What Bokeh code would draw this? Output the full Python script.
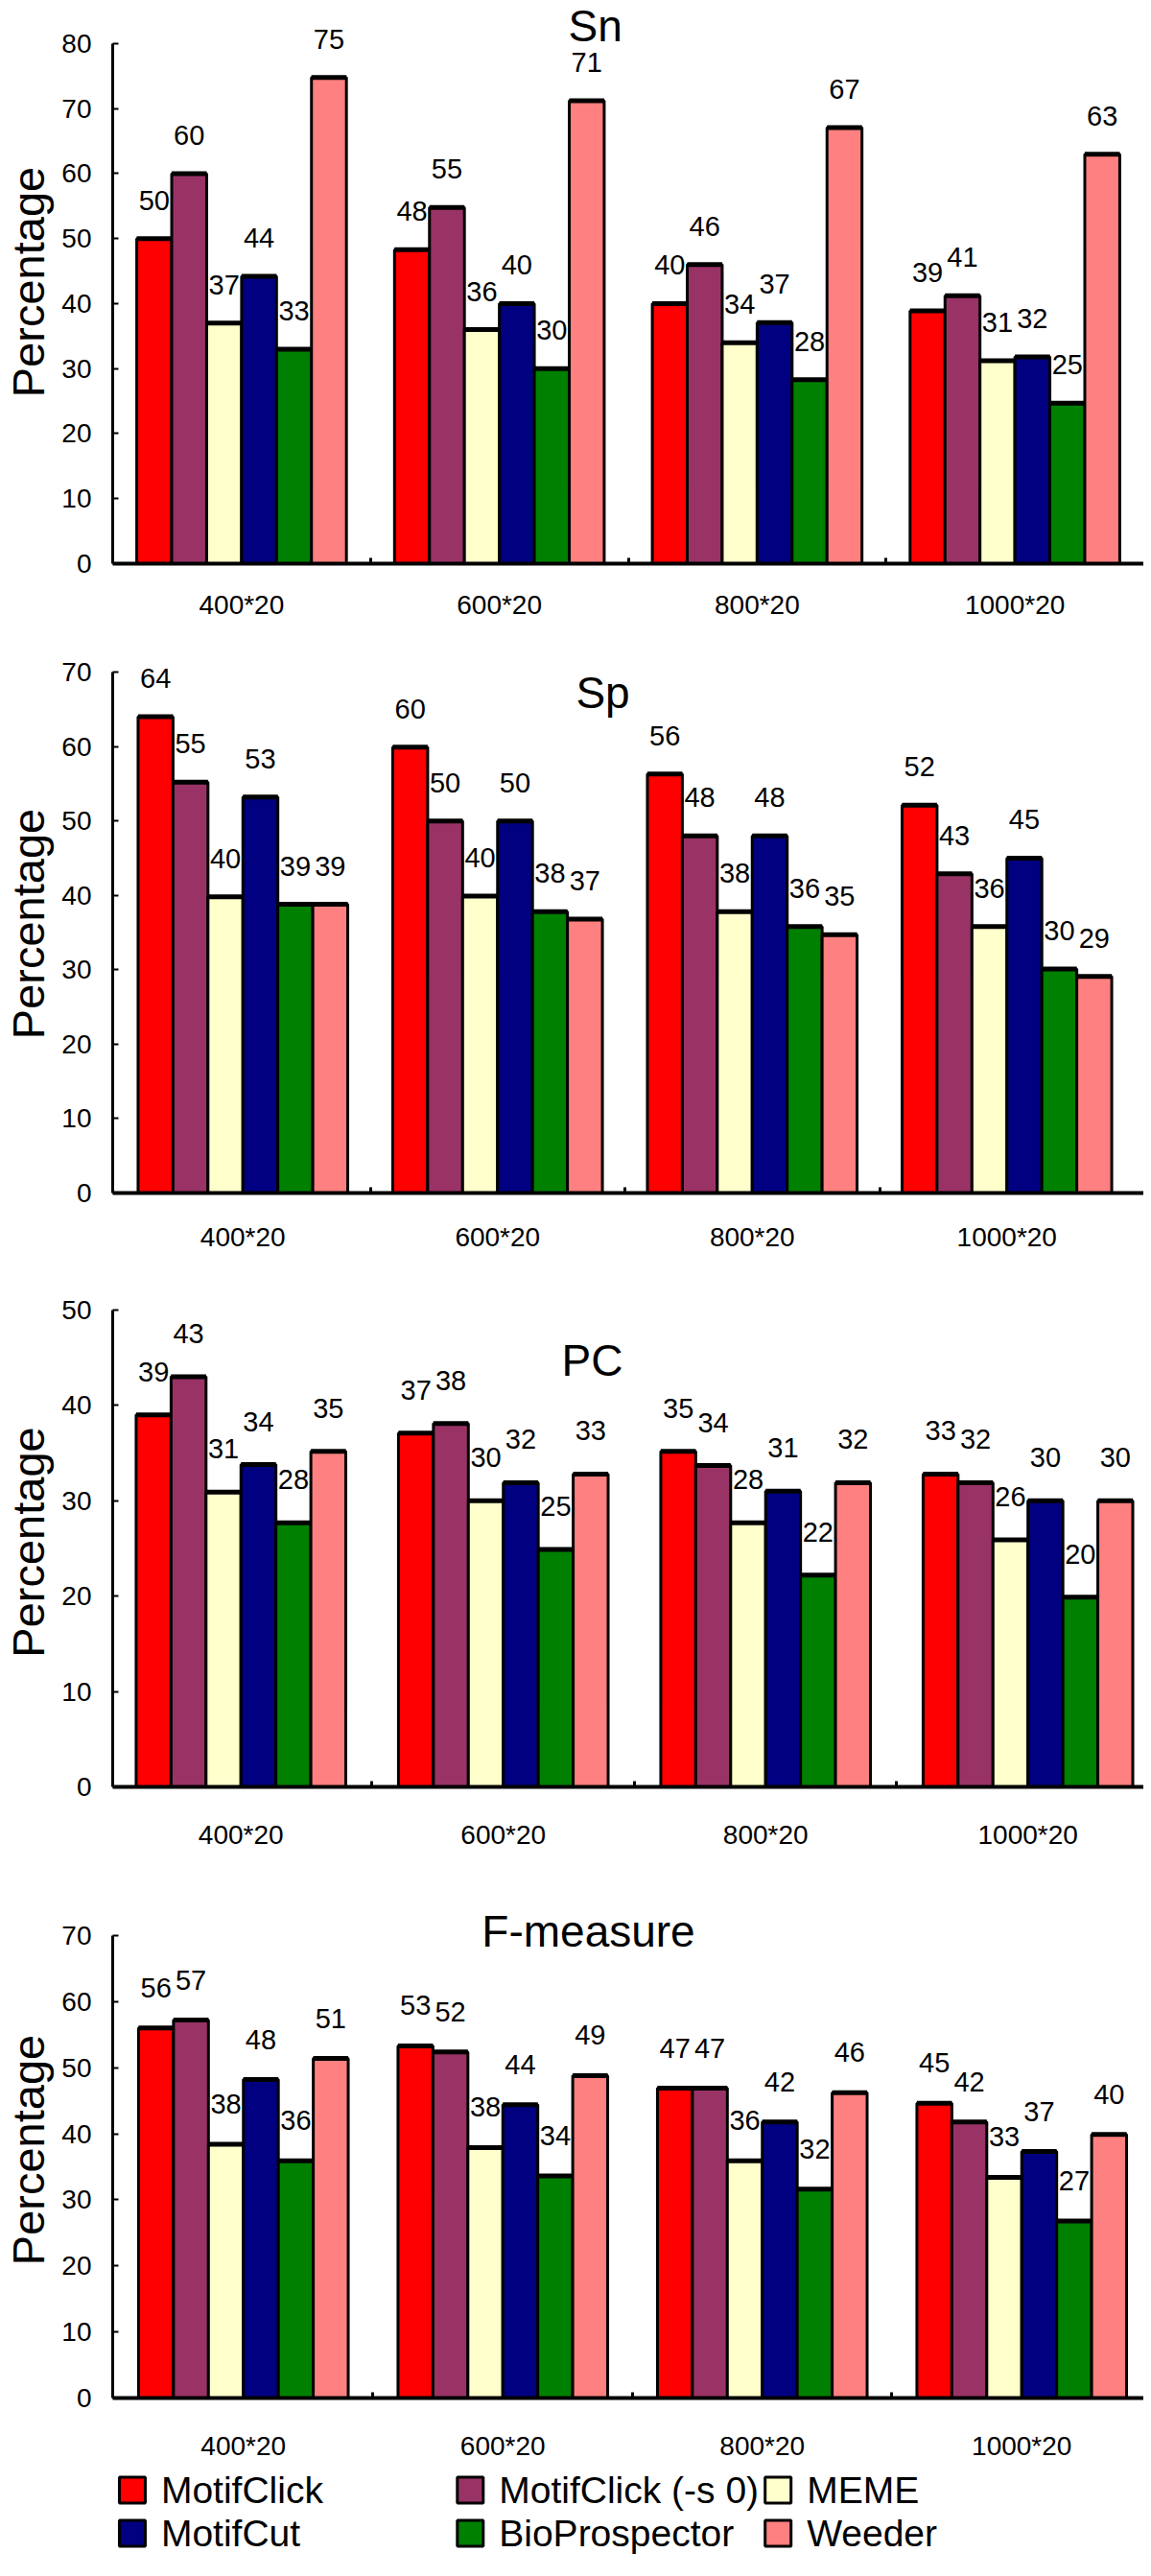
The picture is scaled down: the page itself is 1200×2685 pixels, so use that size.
from bokeh.plotting import figure
from bokeh.models import ColumnDataSource, FixedTicker, Label, Range1d
from bokeh.layouts import column
from bokeh.embed import file_html
from bokeh.resources import INLINE
from bokeh.core.properties import value

# ---------------- data ----------------
categories = ["400*20", "600*20", "800*20", "1000*20"]
methods = ["MotifClick", "MotifClick (-s 0)", "MEME", "MotifCut", "BioProspector", "Weeder"]
colors = ["#FF0000", "#993366", "#FFFFCC", "#000080", "#008000", "#FF8080"]

# one row per method, one value per category
sn_values = [
    [50.0, 48.3, 40.0, 38.9],
    [60.0, 54.8, 46.0, 41.2],
    [37.0, 36.0, 34.0, 31.2],
    [44.2, 40.0, 37.1, 31.8],
    [33.0, 30.0, 28.3, 24.7],
    [74.8, 71.2, 67.1, 63.0],
]
sp_values = [
    [64.0, 59.9, 56.3, 52.1],
    [55.2, 50.0, 48.0, 42.9],
    [39.8, 39.9, 37.8, 35.8],
    [53.2, 50.0, 48.0, 45.0],
    [38.8, 37.8, 35.8, 30.1],
    [38.8, 36.8, 34.7, 29.1],
]
pc_values = [
    [39.0, 37.1, 35.2, 32.8],
    [43.0, 38.1, 33.7, 31.9],
    [30.9, 30.0, 27.7, 25.9],
    [33.8, 31.9, 31.0, 30.0],
    [27.7, 24.9, 22.2, 19.9],
    [35.2, 32.8, 31.9, 30.0],
]
fm_values = [
    [56.0, 53.3, 46.9, 44.6],
    [57.2, 52.4, 46.9, 41.8],
    [38.4, 37.9, 35.9, 33.4],
    [48.2, 44.4, 41.8, 37.3],
    [35.9, 33.6, 31.6, 26.8],
    [51.4, 48.8, 46.2, 39.9],
]

FONT = "Liberation Sans"
W = 1192
BL = 115   # common frame left border (column layouts align frames)
BR = 0


def make_panel(title, vals, ymax, ytop, height, b_top, b_bottom,
               x_start, x_end, cat_px, lab_off, title_x, title_y, xlab_standoff):
    p = figure(width=W, height=height, output_backend="svg", toolbar_location=None,
               x_range=Range1d(x_start, x_end), y_range=Range1d(0, ytop),
               min_border_left=BL, min_border_right=BR,
               min_border_top=b_top, min_border_bottom=b_bottom)
    p.outline_line_color = None
    p.grid.visible = False

    bw = 36.5 / cat_px
    for i, (m, c, v) in enumerate(zip(methods, colors, vals)):
        xs = [k + (i - 2.5) * bw for k in range(len(categories))]
        src = ColumnDataSource(dict(
            x=xs, top=v,
            x0=[x - bw / 2 for x in xs], x1=[x + bw / 2 for x in xs],
            lab=[str(int(round(t))) for t in v]))
        p.vbar(x="x", top="top", bottom=0, width=bw, source=src,
               fill_color=c, line_color="black", line_width=3)
        p.segment(x0="x0", y0="top", x1="x1", y1="top", source=src,
                  line_color="black", line_width=5)
        p.text(x="x", y="top", text="lab", source=src, text_align="center",
               text_baseline="middle", y_offset=-lab_off,
               text_font=value(FONT), text_font_size="29px", text_color="black")

    # x axis
    xa = p.xaxis[0]
    xa.ticker = FixedTicker(ticks=[0, 1, 2, 3], minor_ticks=[0.5, 1.5, 2.5])
    xa.major_label_overrides = {i: c for i, c in enumerate(categories)}
    xa.major_tick_in = 0
    xa.major_tick_out = 0
    xa.minor_tick_in = 6
    xa.minor_tick_out = 0
    xa.minor_tick_line_width = 3
    xa.minor_tick_line_color = "black"
    xa.axis_line_width = 4
    xa.axis_line_color = "black"
    xa.major_label_standoff = xlab_standoff
    xa.major_label_text_font = FONT
    xa.major_label_text_font_size = "28px"
    xa.major_label_text_color = "black"

    # y axis
    ya = p.yaxis[0]
    ya.ticker = FixedTicker(ticks=list(range(0, ymax + 1, 10)))
    ya.bounds = (0, ymax)
    ya.major_tick_in = 6
    ya.major_tick_out = 0
    ya.major_tick_line_width = 2
    ya.minor_tick_line_color = None
    ya.axis_line_width = 3
    ya.axis_line_color = "black"
    ya.major_label_standoff = 22
    ya.major_label_text_font = FONT
    ya.major_label_text_font_size = "28px"
    ya.major_label_text_color = "black"
    ya.axis_label = "Percentage"
    ya.axis_label_text_font = FONT
    ya.axis_label_text_font_size = "47px"
    ya.axis_label_text_font_style = "normal"
    ya.axis_label_text_color = "black"
    ya.axis_label_standoff = 5

    p.add_layout(Label(x=title_x, y=title_y, text=title, text_align="center",
                       text_baseline="middle", text_font=FONT,
                       text_font_size="46px", text_color="black"))
    return p


FW = W - BL - BR  # frame width in px
p1 = make_panel("Sn", sn_values, 80, 86.64, 672, 0, 85,
                -0.5, -0.5 + FW / 269.25, 269.25, 40, 1.372, 82.66, 27)
p2 = make_panel("Sp", sp_values, 70, 72.32, 650, 10, 79,
                -0.5113, -0.5113 + FW / 266.0, 266.0, 40, 1.4135, 67.2, 30)
p3 = make_panel("PC", pc_values, 50, 51.31, 630, 30, 90,
                -0.489, -0.489 + FW / 274.0, 274.0, 45, 1.339, 44.7, 34)
p4 = make_panel("F-measure", fm_values, 70, 75.07, 615, 30, 67,
                -0.5037, -0.5037 + FW / 271.0, 271.0, 42, 1.330, 70.7, 34)

# ---------------- legend (separate strip, page-pixel coordinates) ----------------
LH = 110
leg = figure(width=W, height=LH, output_backend="svg", toolbar_location=None,
             x_range=Range1d(BL + 8, W + 8 - BR), y_range=Range1d(LH, 0),
             x_axis_location=None, y_axis_location=None,
             min_border_left=BL, min_border_right=BR, min_border_top=0, min_border_bottom=0)
leg.grid.visible = False
leg.outline_line_color = None
col_x = [143.5, 496.5, 818.0]
row_y = [28, 73]
lsrc = ColumnDataSource(dict(
    gx=[col_x[i % 3] for i in range(len(methods))],
    tx=[col_x[i % 3] + 30 for i in range(len(methods))],
    y=[row_y[i // 3] for i in range(len(methods))],
    color=colors, name=methods))
leg.rect(x="gx", y="y", width=27, height=27, width_units="screen", height_units="screen",
         fill_color="color", line_color="black", line_width=3, source=lsrc)
leg.text(x="tx", y="y", text="name", text_align="left", text_baseline="middle",
         text_font=value(FONT), text_font_size="39px", text_color="black", source=lsrc)

layout = column(p1, p2, p3, p4, leg)
open("out.html", "w").write(file_html(layout, INLINE))
